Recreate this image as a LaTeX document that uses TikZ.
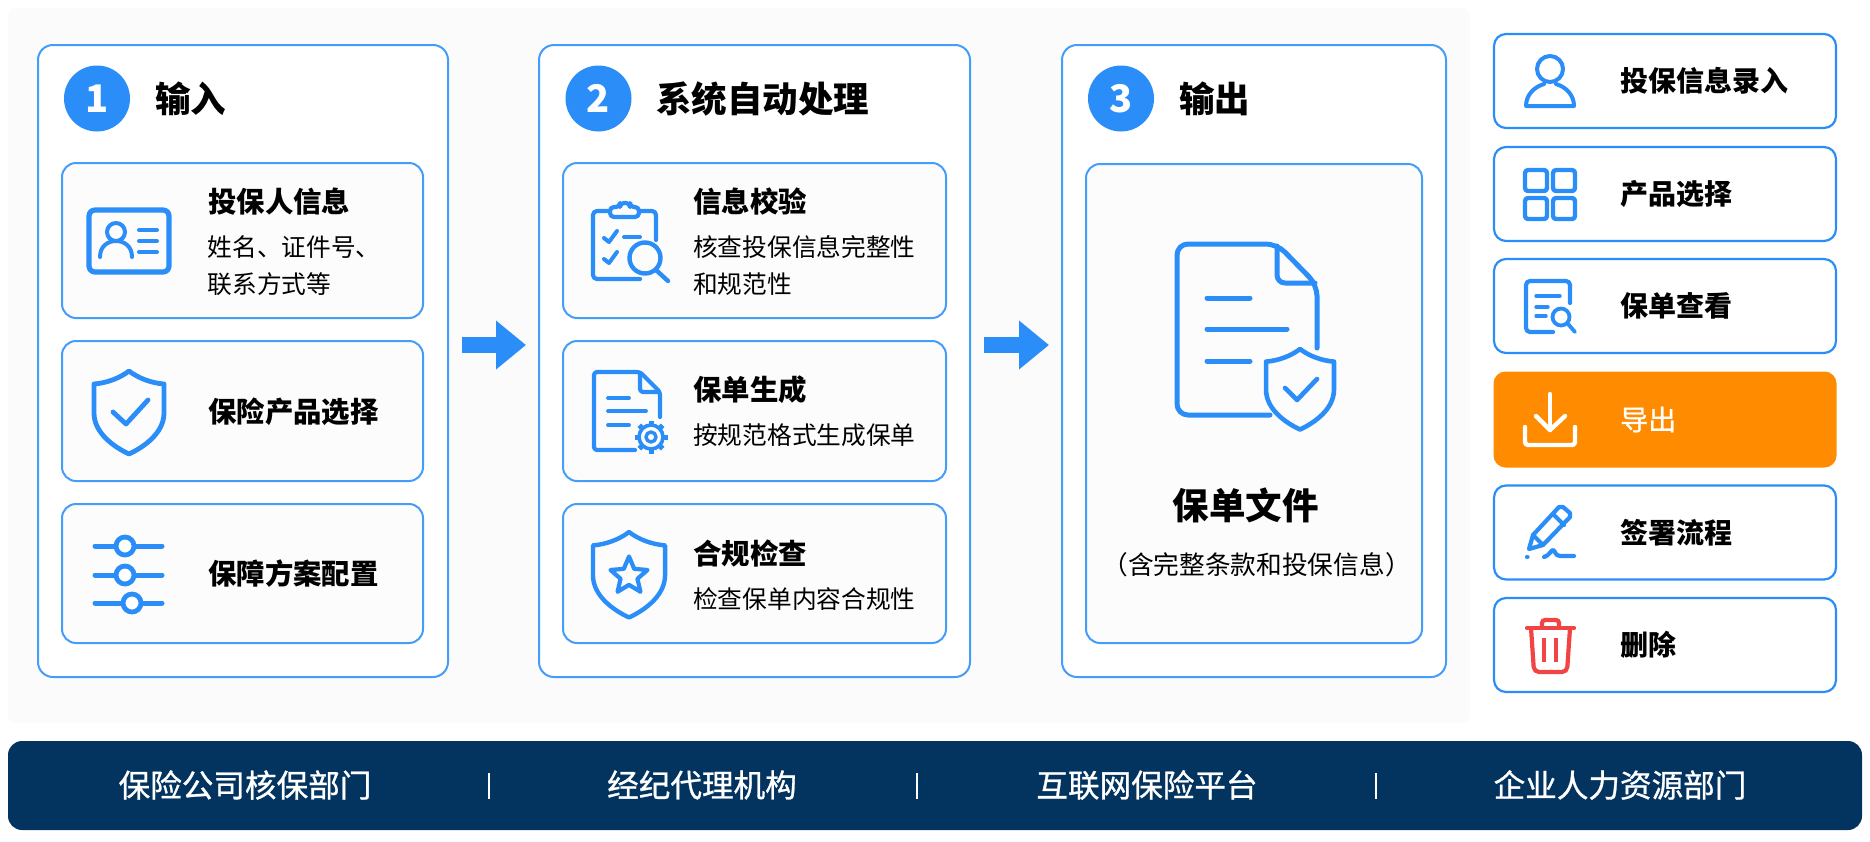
\documentclass[tikz,border=0pt]{standalone}
\usepackage{fontspec}
\setmainfont{Noto Sans CJK SC}
\newfontfamily\cjkmed[FakeBold=0.9]{Noto Sans CJK SC}
\usetikzlibrary{arrows.meta,shapes.geometric}

\definecolor{flowblue}{HTML}{2B8EF8}
\definecolor{edgeblue}{HTML}{459DFA}
\definecolor{backdrop}{HTML}{FBFBFC}
\definecolor{cardface}{HTML}{FCFCFD}
\definecolor{barnavy}{HTML}{03345F}
\definecolor{btnorange}{HTML}{FF8C00}
\definecolor{trashred}{HTML}{F14444}

\tikzset{
    panelbox/.style={draw=edgeblue,line width=2pt,fill=white,rounded corners=15pt,inner sep=0pt},
    cardbox/.style={draw=edgeblue,line width=2pt,fill=cardface,rounded corners=14pt,inner sep=0pt},
    btnbox/.style={draw=flowblue,line width=2.2pt,fill=white,rounded corners=12pt,inner sep=0pt,minimum width=342pt,minimum height=94pt},
    numdot/.style={circle,fill=flowblue,text=white,inner sep=0pt,minimum size=66pt,font=\fontsize{38}{40}\selectfont\bfseries},
    headtext/.style={anchor=west,inner sep=0pt,font=\fontsize{35.5}{42}\selectfont\bfseries},
    cardtitle/.style={anchor=west,inner sep=0pt,font=\fontsize{28.4}{34}\selectfont\bfseries},
    btntitle/.style={anchor=west,inner sep=0pt,font=\fontsize{28}{34}\selectfont\bfseries},
    cardtext/.style={anchor=west,inner sep=0pt,align=left,font=\fontsize{24.7}{36.5}\selectfont},
    bartext/.style={text=white,inner sep=0pt,font=\fontsize{31.6}{36}\selectfont\cjkmed},
    icon/.style={draw=flowblue,line width=4.8pt,line cap=round,line join=round},
    flowarrow/.style={draw=flowblue,line width=16pt,-{Triangle[length=30pt,width=47pt]},shorten <=13pt,shorten >=12pt},
    shieldicon/.pic={
        \path[pic actions] (0,0) .. controls (-9,7) and (-22,12) .. (-35,13) -- (-35,42)
            .. controls (-35,62) and (-15,76) .. (0,83)
            .. controls (15,76) and (35,62) .. (35,42) -- (35,13)
            .. controls (22,12) and (9,7) .. (0,0) -- cycle;
    }
}

\begin{document}
\begin{tikzpicture}[x=1pt,y=-1pt]
    \useasboundingbox (0,0) rectangle (1870,841);
    \fill[backdrop,rounded corners=8pt] (8,8) rectangle (1470,723);

    % Step panels
    \node[panelbox,minimum width=410pt,minimum height=632pt] (panel1) at (243,361) {};
    \node[panelbox,minimum width=431pt,minimum height=632pt] (panel2) at (754.5,361) {};
    \node[panelbox,minimum width=384pt,minimum height=632pt] (panel3) at (1254,361) {};

    \node[numdot] (num1) at (97,98.5) {1};
    \node[headtext] (head1) at (155,98.5) {输入};
    \node[numdot] (num2) at (598.5,98.5) {2};
    \node[headtext] (head2) at (656,98.5) {系统自动处理};
    \node[numdot] (num3) at (1121,98.5) {3};
    \node[headtext] (head3) at (1179,98.5) {输出};

    % Arrows between the panels
    \coordinate (flowline) at (0,345);
    \draw[flowarrow] (panel1.east |- flowline) -- (panel2.west |- flowline);
    \draw[flowarrow] (panel2.east |- flowline) -- (panel3.west |- flowline);

    % Input cards
    \foreach \n/\yy/\hh in {1/240.5/155,2/411/140,3/573.5/139} {
        \node[cardbox,minimum width=361pt,minimum height=\hh pt] (cardA\n) at (242.5,\yy) {};
        \node[cardbox,minimum width=383pt,minimum height=\hh pt] (cardB\n) at (754.5,\yy) {};
    }
    \node[cardtitle] (titleA1) at (208,202) {投保人信息};
    \node[cardtext] (textA1) at (207.5,265.5) {姓名、证件号、\\联系方式等};
    \node[cardtitle] (titleA2) at (208,412) {保险产品选择};
    \node[cardtitle] (titleA3) at (208,574) {保障方案配置};

    % ID card icon
    \draw[icon,line width=5.2pt] (89,210) [rounded corners=6pt] rectangle (169,272);
    \draw[icon,line width=4pt] (116,232) circle (9);
    \draw[icon,line width=4pt] (100,257) .. controls (100,246) and (108,241) .. (116,241) .. controls (124,241) and (132,246) .. (132,257);
    \foreach \yy in {230,241,252}
        \draw[icon,line width=4pt] (139,\yy) -- (157,\yy);

    % Shield with tick
    \pic[icon] at (129,371) {shieldicon};
    \draw[icon] (113,412) -- (126,424) -- (148,400);

    % Sliders
    \foreach \yy/\xx in {546/125,575/125,603/132} {
        \draw[icon,line width=5pt] (95,\yy) -- (162,\yy);
        \draw[icon,fill=white] (\xx,\yy) circle (9);
    }

    % Processing cards
    \node[cardtitle] (titleB1) at (693,202) {信息校验};
    \node[cardtext] (textB1) at (693,265.5) {核查投保信息完整性\\和规范性};
    \node[cardtitle] (titleB2) at (693,390) {保单生成};
    \node[cardtext] (textB2) at (693,435) {按规范格式生成保单};
    \node[cardtitle] (titleB3) at (693,553) {合规检查};
    \node[cardtext] (textB3) at (693,599) {检查保单内容合规性};

    % Clipboard
    \draw[icon,line width=4.2pt,rounded corners=4pt] (609,211) -- (593,211) -- (593,279) -- (640,279);
    \draw[icon,line width=4.2pt,rounded corners=4pt] (640,211) -- (656,211) -- (656,240);
    \draw[icon,line width=4.2pt,rounded corners=4pt] (610,217) -- (610,207) -- (620,207) -- (620,203) -- (630,203) -- (630,207) -- (639,207) -- (639,217) -- cycle;
    \foreach \yy in {238,259}
        \draw[icon,line width=4pt] (604,\yy) -- (609,\yy+4) -- (617,\yy-7);
    \draw[icon,line width=4pt] (624,237) -- (640,237);
    \draw[icon,line width=4.4pt] (645,258) circle (15.5);
    \draw[icon,line width=4.4pt] (656,270) -- (668,281);

    % Document with gear
    \draw[icon,line width=4.2pt,rounded corners=3pt] (660,417) -- (660,392) -- (640,372) -- (594,372) -- (594,450) -- (635,450);
    \draw[icon,line width=4.2pt,rounded corners=3pt] (640,373) -- (640,392) -- (659,392);
    \foreach \yy/\xx in {398/629,411/646,425/629}
        \draw[icon,line width=3.8pt] (608,\yy) -- (\xx,\yy);
    \foreach \ang in {0,45,...,315}
        \draw[flowblue,line width=5pt] (651,437) ++(\ang:10) -- ++(\ang:6.5);
    \draw[icon,line width=3.6pt,fill=cardface] (651,437) circle (12);
    \draw[icon,line width=3.4pt] (651,437) circle (5);

    % Shield with star
    \pic[icon,line width=4.4pt,scale=1.03] at (629,532) {shieldicon};
    \node[star,star points=5,star point ratio=2.2,draw=flowblue,line width=4.2pt,line join=round,inner sep=0pt,minimum size=39pt] (staricon) at (629,576) {};

    % Output card
    \node[cardbox,minimum width=336pt,minimum height=479pt] (cardC) at (1254,403.5) {};
    \node[inner sep=0pt,font=\fontsize{36.5}{44}\selectfont\bfseries] (titleC) at (1245.5,505) {保单文件};
    \node[inner sep=0pt,font=\fontsize{25.7}{30}\selectfont] (textC) at (1256.5,565) {（含完整条款和投保信息）};

    \draw[icon,line width=5pt,rounded corners=11pt] (1317,348) -- (1317,285) -- (1277,244) -- (1177,244) -- (1177,415) -- (1270,415);
    \draw[icon,line width=5pt,rounded corners=8pt] (1277,246) -- (1277,283) -- (1315,283);
    \foreach \yy/\xx in {298/1250,329/1287,361/1250}
        \draw[icon,line width=5pt] (1207,\yy) -- (\xx,\yy);
    \pic[icon,line width=4.6pt,fill=cardface,scale=.97] at (1300,349) {shieldicon};
    \draw[icon,line width=4.6pt] (1285,388) -- (1297,400) -- (1317,379);

    % Side buttons
    \foreach \n/\yy/\lab in {1/81/投保信息录入,2/194/产品选择,3/306/保单查看,5/532.5/签署流程,6/645/删除} {
        \node[btnbox] (btn\n) at (1665,\yy) {};
        \node[btntitle] (btntext\n) at (1620,\yy) {\lab};
    }
    \node[btnbox,draw=none,fill=btnorange,minimum height=96pt,minimum width=343pt] (btn4) at (1665,419.5) {};
    \node[btntitle,text=white,font=\fontsize{28}{34}\selectfont\cjkmed] (btntext4) at (1620,419.5) {导出};

    % Person
    \draw[icon,line width=4pt] (1550,69) circle (13);
    \draw[icon,line width=4pt] (1544,84) .. controls (1534,87) and (1526,95) .. (1526,106) -- (1574,106) .. controls (1574,95) and (1566,87) .. (1556,84);

    % Grid
    \foreach \xx in {1525,1553}
        \foreach \yy in {170,198}
            \draw[icon,line width=4.4pt,rounded corners=3pt] (\xx,\yy) rectangle (\xx+22,\yy+21);

    % Document with magnifier
    \draw[icon,line width=4.2pt,rounded corners=4pt] (1570,303) -- (1570,281) -- (1526,281) -- (1526,332) -- (1553,332);
    \foreach \yy/\xx in {296/1560,307/1548,316/1546}
        \draw[icon,line width=3.4pt] (1536,\yy) -- (\xx,\yy);
    \draw[icon,line width=3.8pt] (1561,317) circle (8.5);
    \draw[icon,line width=3.8pt] (1568,324) -- (1575,332);

    % Download
    \draw[icon,draw=white,line width=4.4pt,rounded corners=3pt] (1525,427) -- (1525,445) -- (1575,445) -- (1575,427);
    \draw[icon,draw=white,line width=4.4pt] (1550,394) -- (1550,430);
    \draw[icon,draw=white,line width=4.4pt] (1536,416) -- (1550,430) -- (1565,416);

    % Pen
    \draw[icon,line width=4.2pt] (1529,549) -- (1533,535) -- (1559,507) -- (1563,507) -- (1570,513) -- (1570,517) -- (1543,545) -- cycle;
    \draw[icon,line width=4.2pt] (1553,514) -- (1564,525);
    \draw[icon,line width=4.2pt] (1533,535) -- (1543,545);
    \draw[icon,line width=4.2pt] (1527,557) -- (1527.5,557);
    \draw[icon,line width=4.2pt] (1544,557) .. controls (1549,556) and (1551,550) .. (1553,550) .. controls (1555,550) and (1555,556) .. (1560,556) -- (1574,556);

    % Bin
    \draw[trashred,line width=4.2pt,line cap=round] (1527,628) -- (1574,628);
    \draw[trashred,line width=4.2pt,rounded corners=3pt] (1542,627) -- (1542,620) -- (1559,620) -- (1559,627);
    \draw[trashred,line width=4.2pt,rounded corners=5pt] (1531,628) -- (1534,672) -- (1567,672) -- (1570,628);
    \foreach \xx in {1544,1556}
        \draw[trashred,line width=4pt] (\xx,638) -- (\xx,662);

    % Bottom bar
    \node[fill=barnavy,rounded corners=14pt,inner sep=0pt,minimum width=1854pt,minimum height=89pt] (bar) at (935,785.5) {};
    \node[bartext] (org1) at (245,785) {保险公司核保部门};
    \node[bartext] (org2) at (702,785) {经纪代理机构};
    \node[bartext] (org3) at (1147,785) {互联网保险平台};
    \node[bartext] (org4) at (1620,785) {企业人力资源部门};
    \foreach \xx in {489,917,1376}
        \draw[white,line width=2.4pt] (\xx,773) -- (\xx,799);
\end{tikzpicture}
\end{document}
